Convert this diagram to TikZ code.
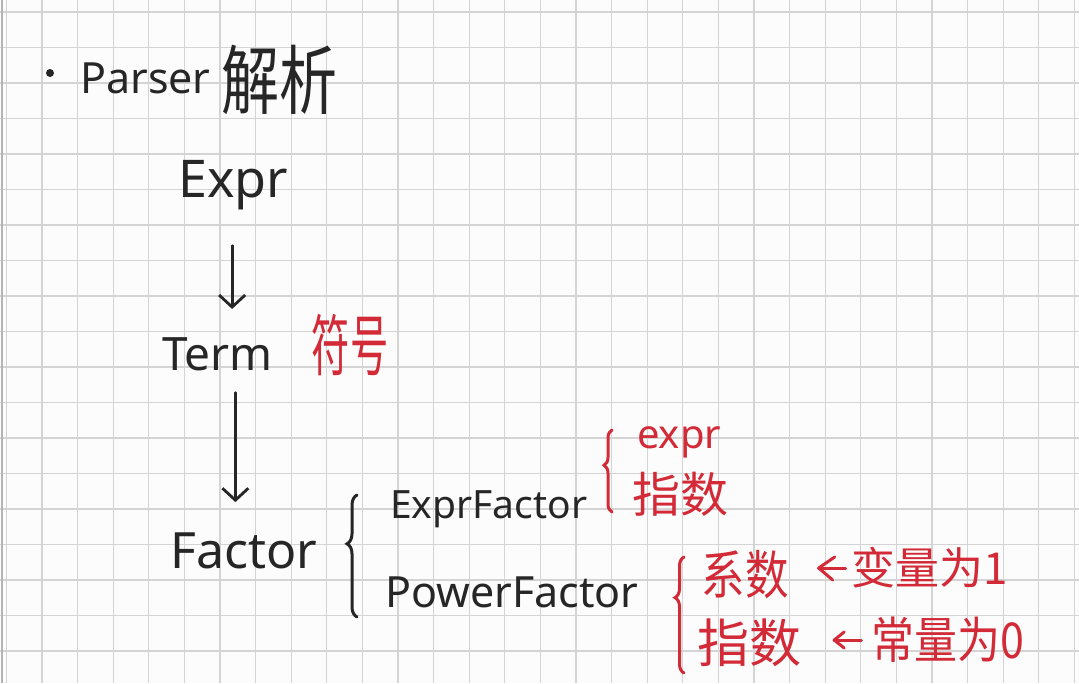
\documentclass[tikz,border=0pt]{standalone}
\usepackage{fontspec}
\setmainfont{Noto Sans}
\newfontfamily\cjk{Noto Sans CJK SC}
\usetikzlibrary{arrows.meta,decorations.pathreplacing,calc}
\definecolor{ink}{RGB}{38,38,38}
\definecolor{pen}{RGB}{210,42,55}
\definecolor{gridc}{RGB}{212,212,212}
\definecolor{paper}{RGB}{252,252,252}
\newcommand\fsz[1]{\fontsize{#1}{#1}\selectfont}
\begin{document}
\begin{tikzpicture}[x=1pt,y=-1pt,
  lat/.style={inner sep=0pt, text=ink, anchor=base west},
  redlat/.style={inner sep=0pt, text=pen, anchor=base west},
  zh/.style={inner sep=0pt, text=pen},
  arr/.style={draw=ink, line width=2.8pt, line cap=round, -{Straight Barb[length=12pt,width=26pt,line width=2.8pt]}},
  redline/.style={draw=pen, line width=3pt, line cap=round, line join=round},
  brc/.style={decorate, decoration={brace, amplitude=#1}, line width=3pt, line cap=round}
]
\fill[paper] (0,0) rectangle (1079,683);
\useasboundingbox (0,0) rectangle (1079,683);
\foreach \k in {0,...,30} \draw[gridc, line width=1.3pt] ({6.4+35.6*\k},0) -- ({6.4+35.6*\k},683);
\foreach \k in {0,...,18} \draw[gridc, line width=1.3pt] (0,{12+35.5*\k}) -- (1079,{12+35.5*\k});
\draw[gridc!85!black, line width=1.5pt] (2,0) -- (2,683);

% title
\node[circle, fill=ink, inner sep=0pt, minimum size=8pt] (bullet) at (50,73) {};
\node[lat, font=\fsz{43}] (parser) at (80,93) {Parser};
\node[inner sep=0pt, text=ink, font={\cjk\fsz{58}}, yscale=1.3] (jiexi) at (279,80) {解析};

% chain
\node[lat, font=\fsz{52}] (expr) at (178,197) {Expr};
\node[lat, font=\fsz{46}] (term) at (162,370) {Term};
\node[zh, font={\cjk\fsz{58}}, xscale=0.66, yscale=1.15] (fuhao) at (350,345) {符号};
\node[lat, font=\fsz{50}] (factor) at (170,568) {Factor};

\draw[arr, shorten <=36pt, shorten >=28pt] ([xshift=-1pt]expr.south) -- ([xshift=-1pt]expr.south |- term.north);
\draw[arr, shorten <=22pt, shorten >=30pt] ([xshift=18pt]term.south) -- ([xshift=18pt]term.south |- factor.north);

% factor kinds
\draw[brc=10pt, draw=ink, decoration={aspect=0.6}] (357,617) -- (357,495);
\node[lat, font=\fsz{39}] (exprf) at (390,518) {ExprFactor};
\node[lat, font=\fsz{43}] (powerf) at (385,607) {PowerFactor};

% ExprFactor details
\draw[brc=8pt, draw=pen, decoration={aspect=0.57}] (612,512) -- (612,430);
\node[redlat, font=\fsz{40}] (rexpr) at (637,448) {expr};
\node[zh, font={\cjk\fsz{48}}] (zhishu1) at (680,494) {指数};

% PowerFactor details
\draw[brc=9pt, draw=pen, decoration={aspect=0.65}] (684,673) -- (684,557);
\node[zh, font={\cjk\fsz{50}}, xscale=0.87, yscale=1.05] (xishu) at (745,575) {系数};
\node[zh, font={\cjk\fsz{44}}] (bianliang) at (930,568) {变量为1};
\node[zh, font={\cjk\fsz{52}}] (zhishu2) at (749,643) {指数};
\node[zh, font={\cjk\fsz{43}}, yscale=1.15] (changliang) at (948,640) {常量为0};

% red "<-" marks
\coordinate (s1) at ([xshift=-6pt]bianliang.west);
\coordinate (t1) at ([xshift=30pt]xishu.east |- bianliang.west);
\draw[redline] (s1) -- (t1);
\draw[redline] ([shift={(14pt,-12pt)}]t1) -- (t1) -- ([shift={(16pt,11pt)}]t1);
\coordinate (s2) at ([xshift=-10pt]changliang.west);
\coordinate (t2) at ([xshift=33pt]zhishu2.east |- changliang.west);
\draw[redline] (s2) -- (t2);
\draw[redline] ([shift={(10pt,-8pt)}]t2) -- (t2) -- ([shift={(10pt,8pt)}]t2);
\end{tikzpicture}
\end{document}
